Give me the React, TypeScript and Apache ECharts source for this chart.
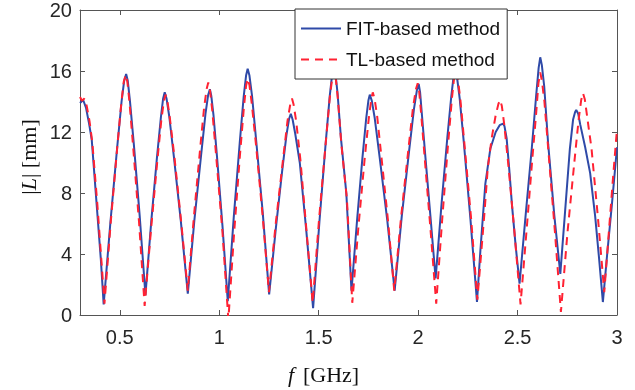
import React, { useEffect, useRef } from "react";
import * as echarts from "echarts";

const seriesNames = ["FIT-based method", "TL-based method"];
const xTickValues = [0.5, 1, 1.5, 2, 2.5, 3];
const xTickLabels = ["0.5", "1", "1.5", "2", "2.5", "3"];

const fitFreq = [
  0.300, 0.316, 0.330, 0.345, 0.359, 0.384, 0.405, 0.419, 0.453, 0.487, 0.509, 0.522, 0.532, 0.540, 0.551, 0.571, 0.600,
  0.629, 0.658, 0.687, 0.707, 0.718, 0.726, 0.735, 0.749, 0.772, 0.807, 0.842, 0.875, 0.909, 0.931, 0.944, 0.953, 0.960,
  0.971, 0.989, 1.016, 1.043, 1.073, 1.103, 1.123, 1.135, 1.143, 1.152, 1.165, 1.186, 1.219, 1.251, 1.284, 1.316, 1.338,
  1.351, 1.360, 1.369, 1.382, 1.405, 1.438, 1.472, 1.504, 1.535, 1.556, 1.568, 1.577, 1.584, 1.595, 1.612, 1.639, 1.665,
  1.693, 1.720, 1.739, 1.750, 1.757, 1.767, 1.782, 1.807, 1.845, 1.882, 1.918, 1.955, 1.979, 1.994, 2.003, 2.010, 2.020,
  2.037, 2.063, 2.088, 2.118, 2.147, 2.167, 2.178, 2.187, 2.196, 2.209, 2.231, 2.263, 2.296, 2.313, 2.338, 2.363, 2.390,
  2.410, 2.427, 2.434, 2.445, 2.458, 2.472, 2.490, 2.510, 2.541, 2.572, 2.593, 2.606, 2.614, 2.622, 2.634, 2.654, 2.685,
  2.715, 2.739, 2.763, 2.779, 2.789, 2.795, 2.805, 2.815, 2.840, 2.865, 2.890, 2.910, 2.929, 2.950, 2.974, 3.000,
];
const fitLen = [
  13.9, 14.1, 13.6, 12.6, 11.5, 7.2, 3.6, 0.7, 6.1, 11.0, 14.0, 15.35, 15.8, 15.37, 14.06, 11.16, 6.52,
  1.3, 6.09, 10.34, 13.0, 14.2, 14.6, 14.2, 13.0, 10.38, 6.15, 1.4, 6.2, 10.5, 13.2, 14.4, 14.8, 14.38,
  13.13, 10.35, 5.9, 0.9, 6.4, 11.27, 14.32, 15.7, 16.15, 15.7, 14.37, 11.41, 6.68, 1.35, 5.6, 9.4, 11.8,
  12.85, 13.2, 12.82, 11.9, 10.0, 5.5, 0.45, 6.15, 11.23, 14.4, 15.8, 16.3, 15.86, 14.54, 11.6, 8.0, 1.6,
  6.2, 10.3, 12.9, 14.06, 14.45, 14.06, 12.9, 10.3, 6.2, 1.6, 6.5, 10.8, 13.5, 14.75, 15.15, 14.6, 13.0,
  10.3, 6.3, 2.4, 7.3, 11.65, 14.37, 15.6, 16.0, 15.55, 14.2, 11.15, 6.3, 0.85, 4.2, 8.6, 10.9, 12.0,
  12.45, 12.55, 12.4, 11.6, 9.6, 7.2, 4.6, 2.05, 6.6, 11.0, 14.3, 16.2, 16.9, 16.4, 15.0, 11.2, 6.5,
  2.7, 6.8, 10.9, 12.8, 13.3, 13.45, 13.2, 12.5, 11.0, 9.3, 6.5, 3.7, 0.85, 3.9, 7.2, 11.0,
];

const tlFreq = [
  0.300, 0.310, 0.322, 0.334, 0.348, 0.362, 0.387, 0.408, 0.423, 0.455, 0.487, 0.508, 0.520, 0.530, 0.538, 0.549, 0.568,
  0.597, 0.625, 0.657, 0.688, 0.709, 0.722, 0.730, 0.739, 0.752, 0.775, 0.808, 0.842, 0.873, 0.904, 0.924, 0.937, 0.945,
  0.953, 0.965, 0.985, 1.016, 1.046, 1.075, 1.104, 1.124, 1.135, 1.143, 1.152, 1.164, 1.186, 1.218, 1.250, 1.285, 1.320,
  1.343, 1.357, 1.366, 1.374, 1.387, 1.408, 1.439, 1.470, 1.502, 1.535, 1.556, 1.569, 1.578, 1.585, 1.596, 1.614, 1.642,
  1.669, 1.700, 1.731, 1.752, 1.765, 1.772, 1.781, 1.794, 1.815, 1.848, 1.880, 1.915, 1.951, 1.974, 1.989, 1.998, 2.005,
  2.016, 2.035, 2.063, 2.091, 2.121, 2.150, 2.170, 2.181, 2.190, 2.199, 2.212, 2.233, 2.266, 2.298, 2.333, 2.350, 2.370,
  2.390, 2.404, 2.413, 2.421, 2.433, 2.454, 2.484, 2.515, 2.545, 2.574, 2.594, 2.605, 2.614, 2.622, 2.635, 2.656, 2.687,
  2.718, 2.751, 2.785, 2.807, 2.820, 2.829, 2.838, 2.850, 2.872, 2.904, 2.936, 2.960, 2.980, 3.000,
];
const tlLen = [
  14.3, 14.05, 14.2, 13.7, 12.7, 11.3, 7.3, 3.5, 0.75, 6.15, 10.95, 13.95, 15.3, 15.75, 15.3, 13.93, 10.9,
  6.05, 0.6, 5.6, 10.0, 12.8, 14.03, 14.45, 14.06, 12.9, 10.34, 6.2, 1.6, 6.5, 10.9, 13.6, 14.84, 15.25,
  14.8, 13.42, 10.37, 5.49, -0.3, 5.4, 10.45, 13.6, 15.03, 15.5, 15.08, 13.82, 11.02, 6.54, 1.5, 6.1, 10.1,
  12.7, 13.8, 14.2, 13.8, 12.7, 10.2, 5.5, 0.8, 6.3, 11.2, 14.26, 15.64, 16.1, 15.64, 14.26, 11.2, 7.6,
  0.8, 5.8, 10.2, 12.9, 14.2, 14.6, 14.2, 13.04, 10.44, 6.28, 1.6, 6.5, 10.85, 13.57, 14.8, 15.2, 14.7,
  13.1, 10.0, 5.5, 0.75, 6.25, 11.1, 14.2, 15.55, 16.0, 15.55, 14.2, 11.2, 6.4, 1.0, 6.6, 9.6, 11.6,
  13.1, 13.85, 14.1, 13.7, 12.5, 9.8, 5.5, 0.7, 5.5, 10.2, 13.3, 15.2, 15.9, 15.4, 14.0, 10.6, 5.6,
  0.2, 5.4, 9.95, 12.8, 14.1, 14.55, 14.15, 13.0, 10.9, 6.4, 1.5, 5.6, 9.0, 12.2,
];

const AX = "#555555";
const TXT = "#262626";
const SANS = "'Liberation Sans', Arial, Helvetica, sans-serif";
const SERIF = "'Liberation Serif', 'Times New Roman', serif";

export default function App() {
  const ref = useRef<HTMLDivElement>(null);
  useEffect(() => {
    if (!ref.current) return;
    const chart = echarts.init(ref.current, undefined, { renderer: "svg" });
    const xBase = {
      type: "value" as const,
      min: 0.3,
      max: 3,
      splitLine: { show: false },
      axisLine: { show: true, onZero: false, lineStyle: { color: AX, width: 1 } },
      axisTick: { show: true, inside: true, length: 5, customValues: xTickValues, lineStyle: { color: AX } },
    };
    const yBase = {
      type: "value" as const,
      min: 0,
      max: 20,
      interval: 4,
      splitLine: { show: false },
      axisLine: { show: true, onZero: false, lineStyle: { color: AX, width: 1 } },
      axisTick: { show: true, inside: true, length: 5, lineStyle: { color: AX } },
    };
    chart.setOption({
      animation: false,
      grid: { left: 80, top: 8, width: 537, height: 307, containLabel: false },
      xAxis: [
        {
          ...xBase,
          position: "bottom",
          axisLabel: {
            show: true,
            customValues: xTickValues,
            formatter: (v: number) => xTickLabels[xTickValues.indexOf(v)] ?? String(v),
            color: TXT,
            fontSize: 20,
            fontFamily: SANS,
            margin: 12,
            showMaxLabel: true,
          },
        },
        { ...xBase, position: "top", axisLabel: { show: false } },
      ],
      yAxis: [
        {
          ...yBase,
          position: "left",
          axisLabel: { show: true, color: TXT, fontSize: 20, fontFamily: SANS, margin: 8 },
        },
        { ...yBase, position: "right", axisLabel: { show: false } },
      ],
      legend: {
        orient: "vertical",
        left: 295,
        top: 9,
        backgroundColor: "#ffffff",
        borderColor: "#333333",
        borderWidth: 1,
        borderRadius: 0,
        padding: [10, 7, 10, 5],
        itemWidth: 40,
        itemHeight: 20,
        itemGap: 12,
        itemStyle: { opacity: 0 },
        textStyle: { fontSize: 19, fontFamily: SANS, color: "#111111" },
        data: seriesNames,
      },
      graphic: [
        {
          type: "text",
          x: 288,
          y: 374,
          style: { text: "f", font: `italic 22px ${SERIF}`, fill: "#111", verticalAlign: "middle" },
        },
        {
          type: "text",
          x: 303,
          y: 374,
          style: { text: "[GHz]", font: `22px ${SERIF}`, fill: "#111", verticalAlign: "middle" },
        },
        {
          type: "text",
          x: 28,
          y: 157,
          rotation: Math.PI / 2,
          style: {
            text: "{a||}{b|L}{a|| [mm]}",
            align: "center",
            verticalAlign: "middle",
            fill: "#111",
            rich: {
              a: { fontFamily: SERIF, fontSize: 22, fill: "#111" },
              b: { fontFamily: SERIF, fontSize: 22, fontStyle: "italic", fill: "#111" },
            },
          },
        },
      ],
      series: [
        {
          name: seriesNames[0],
          type: "line",
          symbol: "none",
          showSymbol: false,
          clip: true,
          lineStyle: { color: "#2f4aa8", width: 2 },
          itemStyle: { color: "#2f4aa8" },
          data: fitFreq.map((f, i) => [f, fitLen[i]]),
        },
        {
          name: seriesNames[1],
          type: "line",
          symbol: "none",
          showSymbol: false,
          clip: true,
          lineStyle: { color: "#ff2233", width: 2, type: [8, 6] },
          itemStyle: { color: "#ff2233" },
          data: tlFreq.map((f, i) => [f, tlLen[i]]),
        },
      ],
    });
    return () => chart.dispose();
  }, []);
  return <div ref={ref} style={{ position: "fixed", left: 0, top: 0, width: 635, height: 390 }} />;
}
